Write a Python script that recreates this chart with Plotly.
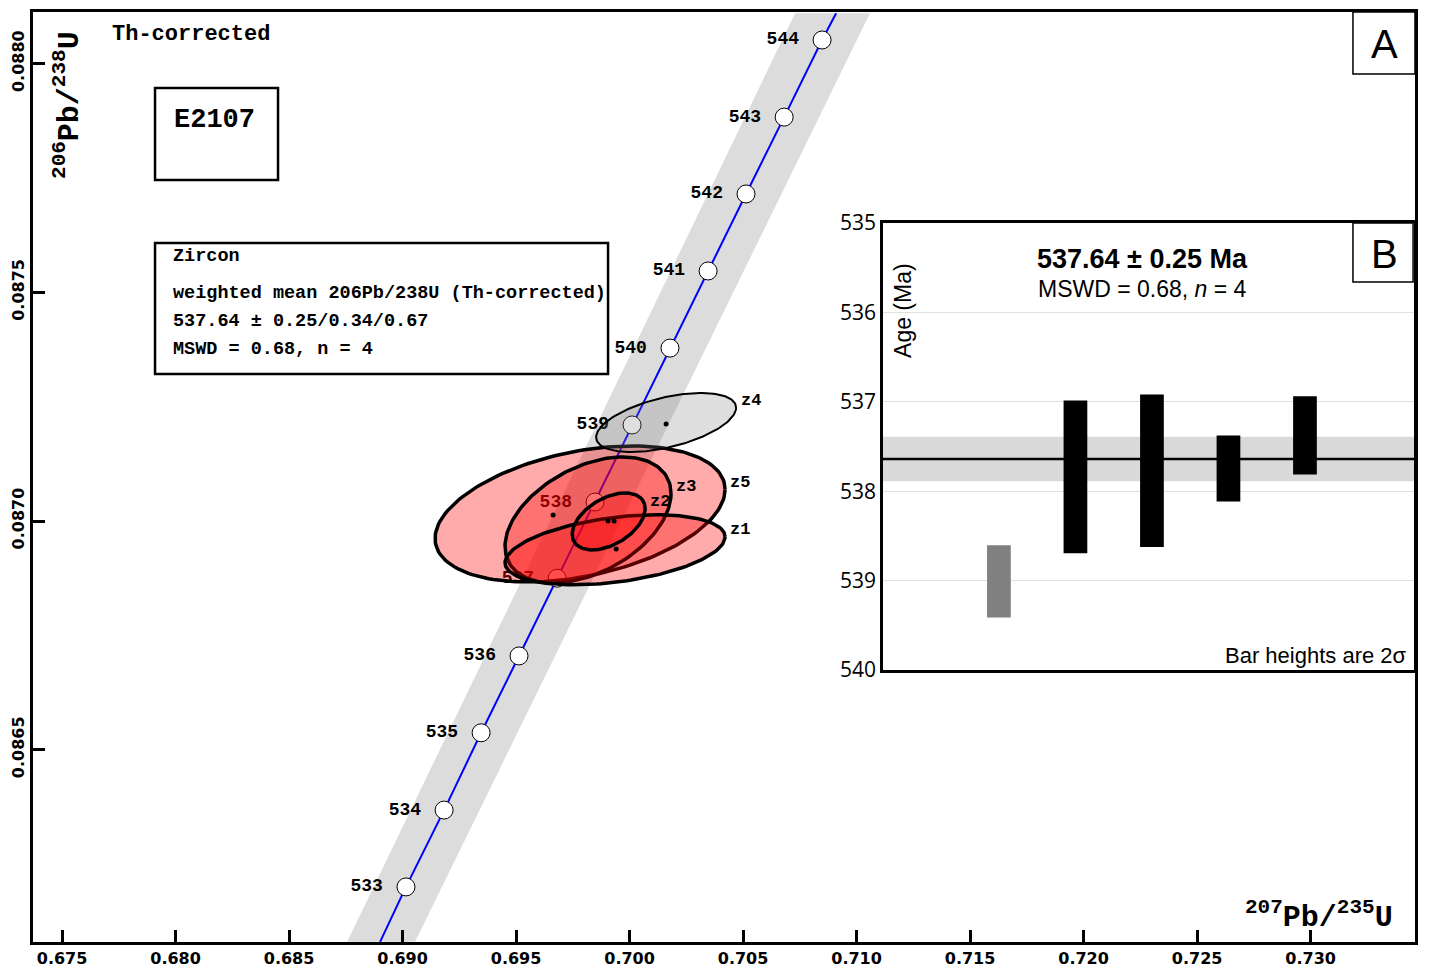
import numpy as np
import plotly.graph_objects as go

# concordia age marks (Ma)
conc_age = [533, 534, 535, 536, 537, 538, 539, 540, 541, 542, 543, 544]
conc_x = [0.69015, 0.69183, 0.69346, 0.69513, 0.69681, 0.69848,
          0.70011, 0.70178, 0.70346, 0.70513, 0.70681, 0.70848]
conc_y = [0.086200, 0.086368, 0.086537, 0.086705, 0.086875, 0.0870415,
          0.087210, 0.087378, 0.0875466, 0.087715, 0.087883, 0.0880516]
# where the concordia and its error band leave the frame
line_end_x = [0.68901, 0.70910]
line_end_y = [0.08608, 0.08811]
band_y = [0.08608, 0.08811]
band_left_x = [0.68756, 0.70729]
band_right_x = [0.69055, 0.71059]

# grain ellipses: centre, half width / half height, correlation
grain = ["z1", "z2", "z3", "z4", "z5"]
ell_x = [0.69936, 0.69908, 0.69817, 0.70161, 0.69782]
ell_y = [0.086937, 0.086999, 0.0870022, 0.0872154, 0.0870153]
ell_dx = [0.004846, 0.001608, 0.003656, 0.003084, 0.006388]
ell_dy = [0.0000765, 0.0000623, 0.0001377, 0.0000645, 0.0001487]
ell_rho = [0.37, 0.45, 0.42, 0.50, 0.36]
dot_x = [0.69941, 0.69905, 0.69932, 0.70161, 0.69663]
dot_y = [0.0869388, 0.0870000, 0.0870000, 0.0872121, 0.0870131]
used = [True, True, True, False, True]

# inset B: 206Pb/238U dates (Ma) and 2 sigma
bar_pos = [1, 2, 3, 4, 5]
bar_age = [539.01, 537.84, 537.77, 537.745, 537.375]
bar_err = [0.404, 0.854, 0.853, 0.369, 0.437]
bar_used = [False, True, True, True, True]
wm_age = 537.64
wm_err = 0.25

MONO = "Liberation Mono, Courier New, monospace"
SANS = "Liberation Sans, Arial, sans-serif"


def ellipse(cx, cy, ex, ey, rho, n=160):
    t = np.linspace(0, 2 * np.pi, n)
    x = cx + ex * np.cos(t)
    y = cy + ey * (rho * np.cos(t) + np.sqrt(1 - rho ** 2) * np.sin(t))
    return x, y


fig = go.Figure()

# concordia error band
fig.add_trace(go.Scatter(
    x=[band_left_x[0], band_left_x[1], band_right_x[1], band_right_x[0]],
    y=[band_y[0], band_y[1], band_y[1], band_y[0]],
    fill="toself", fillcolor="#dcdcdc", line=dict(width=0),
    mode="lines", hoverinfo="skip", showlegend=False))

# concordia curve
fig.add_trace(go.Scatter(
    x=[line_end_x[0]] + conc_x + [line_end_x[1]],
    y=[line_end_y[0]] + conc_y + [line_end_y[1]],
    mode="lines", line=dict(color="blue", width=2), showlegend=False))

fig.add_trace(go.Scatter(
    x=conc_x, y=conc_y, mode="markers+text",
    marker=dict(size=18, color="white", line=dict(color="black", width=1)),
    text=["<b>%d\u00a0</b>" % a for a in conc_age],
    textposition="middle left",
    textfont=dict(family=MONO, size=18, color="black"),
    showlegend=False))

# ellipses, biggest first
for i in [4, 2, 0, 1, 3]:
    ex, ey = ellipse(ell_x[i], ell_y[i], ell_dx[i], ell_dy[i], ell_rho[i])
    if used[i]:
        fc, lw = "rgba(255,0,0,0.33)", 3.5
    else:
        fc, lw = "rgba(128,128,128,0.25)", 2
    fig.add_trace(go.Scatter(x=ex, y=ey, fill="toself", fillcolor=fc,
                             mode="lines", line=dict(color="black", width=lw),
                             name=grain[i], showlegend=False))

fig.add_trace(go.Scatter(x=dot_x, y=dot_y, mode="markers",
                         marker=dict(size=5, color="black"), showlegend=False))

# inset bars
fig.add_trace(go.Bar(
    x=bar_pos, y=[2 * e for e in bar_err],
    base=[a - e for a, e in zip(bar_age, bar_err)],
    width=0.31, marker=dict(color=["black" if u else "#808080" for u in bar_used],
                            line=dict(width=0)),
    xaxis="x2", yaxis="y2", showlegend=False))

ann = []
for i in range(len(grain)):
    ann.append(dict(x=ell_x[i] + ell_dx[i], y=ell_y[i] + ell_rho[i] * ell_dy[i],
                    xref="x", yref="y", text="<b>%s</b>" % grain[i], showarrow=False,
                    xanchor="left", yanchor="middle", xshift=3, yshift=7,
                    font=dict(family=MONO, size=17, color="black")))


def pnote(x, y, text, size, family=MONO, xanchor="left", angle=0):
    ann.append(dict(x=x, y=y, xref="paper", yref="paper", text=text, showarrow=False,
                    xanchor=xanchor, yanchor="middle", textangle=angle,
                    font=dict(family=family, size=size, color="black")))


pnote(0.0557, 0.9763, "<b>Th-corrected</b>", 22)
pnote(0.1006, 0.8839, "<b>E2107</b>", 27)
pnote(0.0999, 0.7366, "<b>Zircon</b>", 18.5)
pnote(0.0999, 0.6968, "<b>weighted mean 206Pb/238U (Th-corrected)</b>", 18.5)
pnote(0.0999, 0.6667, "<b>537.64 ± 0.25/0.34/0.67</b>", 18.5)
pnote(0.0999, 0.6366, "<b>MSWD = 0.68, n = 4</b>", 18.5)
pnote(0.0253, 0.900, "<b><sup>206</sup>Pb/<sup>238</sup>U</b>", 30, xanchor="center", angle=-90)
pnote(0.9855, 0.029, "<b><sup>207</sup>Pb/<sup>235</sup>U</b>", 30, xanchor="right")
pnote(0.9776, 0.9656, "A", 40, family=SANS, xanchor="center")
pnote(0.9776, 0.7398, "B", 40, family=SANS, xanchor="center")
pnote(0.8025, 0.7344, "<b>537.64 ± 0.25 Ma</b>", 27, family=SANS, xanchor="center")
pnote(0.8025, 0.7022, "MSWD = 0.68, <i>n</i> = 4", 23, family=SANS, xanchor="center")
pnote(0.6295, 0.6796, "Age (Ma)", 23, family=SANS, xanchor="center", angle=-90)
pnote(0.9957, 0.3086, "Bar heights are 2σ", 22, family=SANS, xanchor="right")

shapes = [
    dict(type="rect", xref="paper", yref="paper", x0=0.0883, x1=0.1773, y0=0.8194, y1=0.9183,
         line=dict(color="black", width=2.5)),
    dict(type="rect", xref="paper", yref="paper", x0=0.0883, x1=0.4161, y0=0.6108, y1=0.7516,
         line=dict(color="black", width=2.5)),
    dict(type="rect", xref="paper", yref="paper", x0=0.9551, x1=1.0, y0=0.9333, y1=1.0,
         line=dict(color="black", width=1.5), fillcolor="white"),
    dict(type="rect", xref="x2 domain", yref="y2", x0=0, x1=1,
         y0=wm_age - wm_err, y1=wm_age + wm_err,
         fillcolor="#d9d9d9", line=dict(width=0), layer="below"),
    dict(type="line", xref="x2 domain", yref="y2", x0=0, x1=1, y0=wm_age, y1=wm_age,
         line=dict(color="black", width=2.5)),
    dict(type="rect", xref="paper", yref="paper", x0=0.9551, x1=0.9986, y0=0.7097, y1=0.7731,
         line=dict(color="black", width=1.5), fillcolor="white"),
]

tickfont = dict(family="DejaVu Sans", size=16, color="black", weight="bold")
fig.update_layout(
    width=1430, height=970,
    margin=dict(l=25, r=23, t=4, b=36),
    paper_bgcolor="white", plot_bgcolor="rgba(0,0,0,0)",
    xaxis=dict(domain=[0, 1], range=[0.67372, 0.7346], automargin=False,
               tickvals=[0.675, 0.680, 0.685, 0.690, 0.695, 0.700, 0.705,
                         0.710, 0.715, 0.720, 0.725, 0.730],
               tickformat=".3f", ticks="inside", ticklen=12, tickwidth=2.5,
               tickcolor="black", showline=True, linewidth=3, linecolor="black",
               mirror=True, showgrid=False, zeroline=False, tickfont=tickfont),
    yaxis=dict(domain=[0, 1], range=[0.0860796, 0.0881128], automargin=False,
               tickvals=[0.0865, 0.0870, 0.0875, 0.0880], tickformat=".4f",
               tickangle=-90, ticks="inside", ticklen=12, tickwidth=2.5,
               tickcolor="black", showline=True, linewidth=3, linecolor="black",
               mirror=True, showgrid=False, zeroline=False, tickfont=tickfont),
    xaxis2=dict(domain=[0.6150, 0.99928], anchor="y2", range=[-0.516, 6.425],
                automargin=False,
                showticklabels=False, ticks="", showline=True, mirror=True,
                linewidth=2.5, linecolor="black", showgrid=False, zeroline=False),
    yaxis2=dict(domain=[0.2925, 0.7731], anchor="x2", range=[540, 535],
                automargin=False,
                tickvals=[535, 536, 537, 538, 539, 540], ticks="",
                showline=True, mirror=True, linewidth=2.5, linecolor="black",
                showgrid=True, gridcolor="#e0e0e0", gridwidth=1, zeroline=False,
                tickfont=dict(family="Open Sans", size=21, color="black")),
    annotations=ann, shapes=shapes, showlegend=False,
)

fig.write_html("out.html")
